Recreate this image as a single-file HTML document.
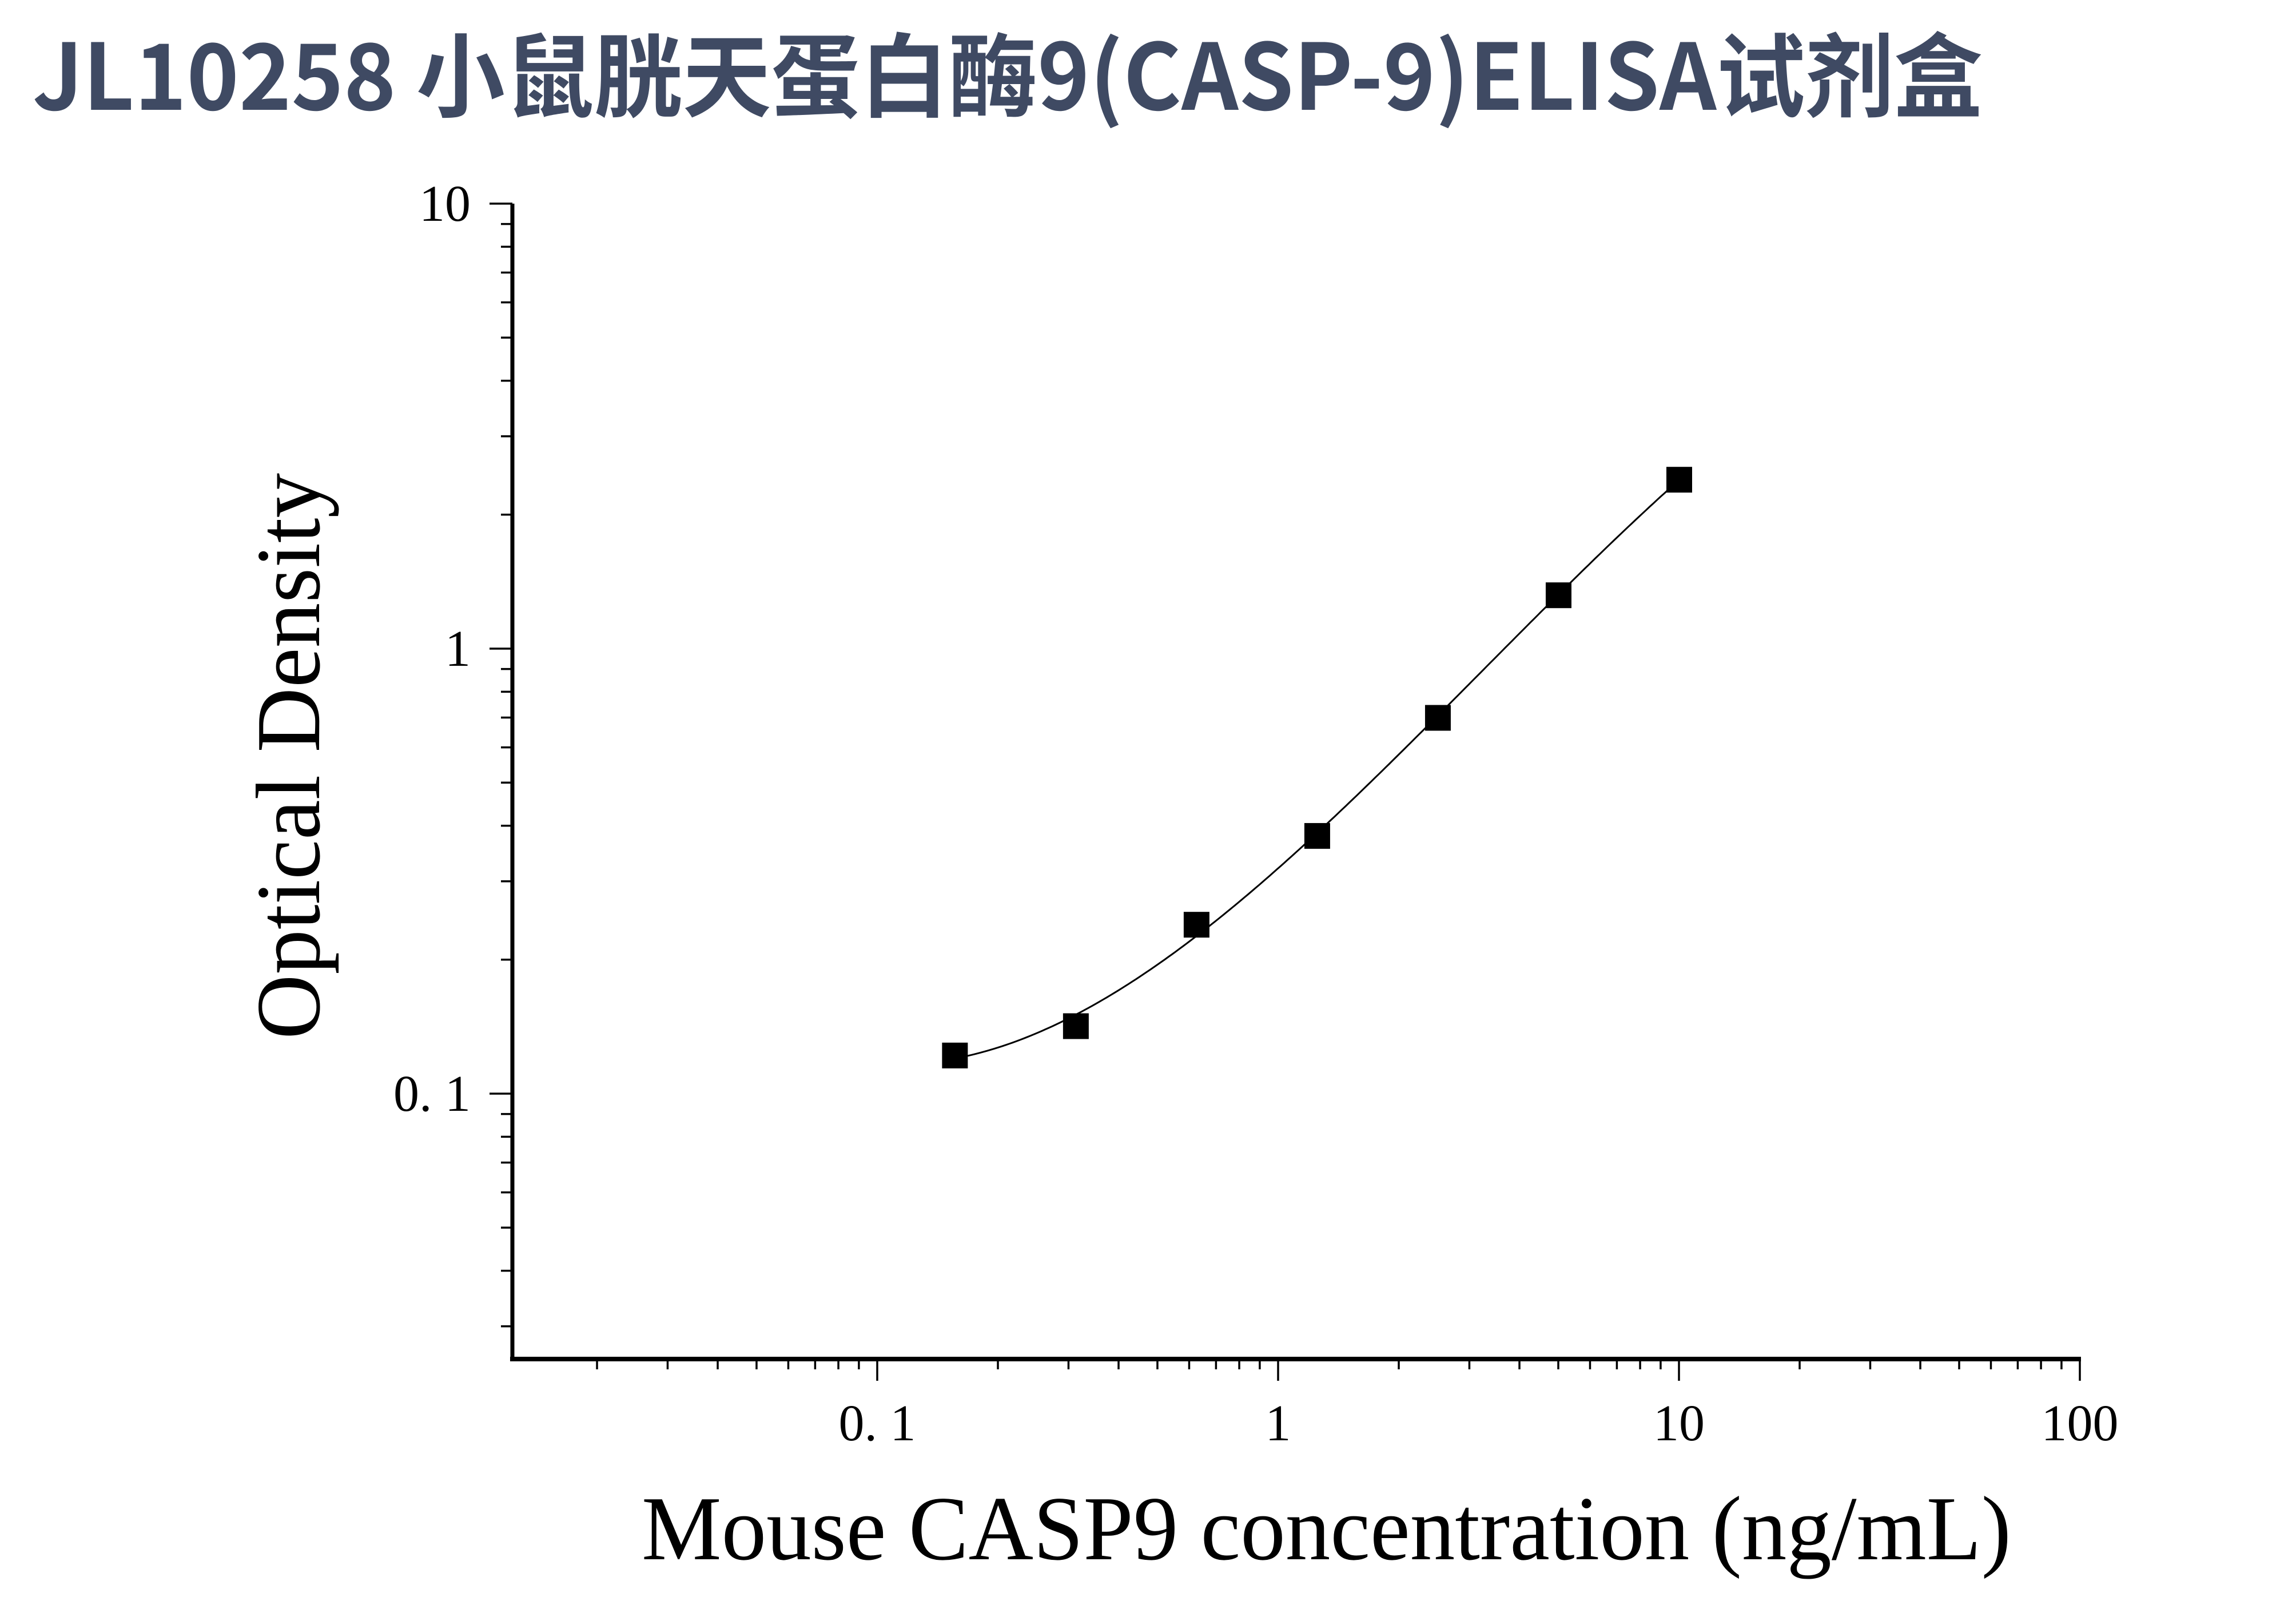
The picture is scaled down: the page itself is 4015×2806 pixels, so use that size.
<!DOCTYPE html>
<html><head><meta charset="utf-8"><style>
html,body{margin:0;padding:0;background:#fff;}
svg{display:block;}
</style></head><body>
<svg id="chart" width="4015" height="2806" viewBox="0 0 4015 2806" xmlns="http://www.w3.org/2000/svg">
<text x="57" y="192" font-family="'Noto Sans CJK SC','Liberation Sans',sans-serif" font-weight="bold" font-size="160" fill="#3f4a63" textLength="3410" lengthAdjust="spacingAndGlyphs">JL10258 小鼠胱天蛋白酶9(CASP-9)ELISA试剂盒</text>
<g id="axes"></g>
<g id="marks"></g>
<text x="1122" y="2726" font-family="'Liberation Serif',serif" font-size="160" fill="#000" textLength="2395" lengthAdjust="spacingAndGlyphs">Mouse CASP9 concentration (ng/mL)</text>
<text transform="translate(558,1322) rotate(-90)" text-anchor="middle" font-family="'Liberation Serif',serif" font-size="160" fill="#000" textLength="990" lengthAdjust="spacingAndGlyphs">Optical Density</text>
</svg>
<script>
const concentrations = [0.156, 0.3125, 0.625, 1.25, 2.5, 5, 10];
const opticalDensity = [0.122, 0.142, 0.240, 0.380, 0.700, 1.320, 2.400];
const xTickValues = [0.1, 1, 10, 100];
const xTickLabels = ["0. 1", "1", "10", "100"];
const yTickValues = [0.1, 1, 10];
const yTickLabels = ["0. 1", "1", "10"];

const NS = "http://www.w3.org/2000/svg";
const X0 = 896, Y0 = 2376;
const XDEC = 701, X01 = 1534;
const YDEC = 778, Y01 = 1912;
function xs(v){ return X01 + (Math.log10(v) + 1) * XDEC; }
function ys(v){ return Y01 - (Math.log10(v) + 1) * YDEC; }
const X1 = xs(100), Y1 = ys(10);
function mk(tag, attrs, parent){ const e = document.createElementNS(NS, tag); for (const k in attrs) e.setAttribute(k, attrs[k]); parent.appendChild(e); return e; }

const axes = document.getElementById('axes');
const marks = document.getElementById('marks');
let el;
el = mk('line', {x1:X0, y1:Y1, x2:X0, y2:Y0+4, stroke:'#000','stroke-width':7}, axes);


el = mk('line', {x1:X0-4, y1:Y0, x2:X1+2, y2:Y0, stroke:'#000','stroke-width':8}, axes);



for (let d = -2; d <= 1; d++) {
  for (let m = 1; m <= 9; m++) {
    const v = m * Math.pow(10, d);
    const x = xs(v);
    if (x < X0 + 2) continue;
    el = mk('line', {x1:x, y1:Y0, x2:x, y2: m===1 ? Y0+38 : Y0+18, stroke:'#000','stroke-width':3.5}, axes);
    
    
  }
}
el = mk('line', {x1:xs(100), y1:Y0, x2:xs(100), y2:Y0+38, stroke:'#000','stroke-width':3.5}, axes);


xTickValues.forEach((v, i) => {
  const t = mk('text', {x:xs(v), y:2518, 'text-anchor':'middle','font-family':"'Liberation Serif',serif",'font-size':90, fill:'#000'}, axes);
  t.textContent = xTickLabels[i];
  
  
});
for (let d = -2; d <= 0; d++) {
  for (let m = 1; m <= 9; m++) {
    const v = m * Math.pow(10, d);
    const y = ys(v);
    if (y > Y0 - 2) continue;
    el = mk('line', {x1:X0, y1:y, x2: m===1 ? X0-40 : X0-20, y2:y, stroke:'#000','stroke-width':3.5}, axes);
    
    
  }
}
el = mk('line', {x1:X0, y1:ys(10), x2:X0-40, y2:ys(10), stroke:'#000','stroke-width':3.5}, axes);


yTickValues.forEach((v, i) => {
  const t = mk('text', {x:823, y:ys(v)+30, 'text-anchor':'end','font-family':"'Liberation Serif',serif",'font-size':90, fill:'#000'}, axes);
  t.textContent = yTickLabels[i];
  
  
});

// cubic least-squares fit in log-log space
const lx = concentrations.map(Math.log10), ly = opticalDensity.map(Math.log10);
const N = 4, A = [], B = [];
for (let r = 0; r < N; r++) { A.push(new Array(N).fill(0)); B.push(0); }
lx.forEach((x, k) => { for (let r = 0; r < N; r++) { B[r] += ly[k] * Math.pow(x, r); for (let c = 0; c < N; c++) A[r][c] += Math.pow(x, r + c); } });
for (let i = 0; i < N; i++) {
  let p = i; for (let r = i+1; r < N; r++) if (Math.abs(A[r][i]) > Math.abs(A[p][i])) p = r;
  [A[i], A[p]] = [A[p], A[i]]; [B[i], B[p]] = [B[p], B[i]];
  for (let r = 0; r < N; r++) if (r !== i) { const f = A[r][i] / A[i][i]; for (let c = i; c < N; c++) A[r][c] -= f * A[i][c]; B[r] -= f * B[i]; }
}
const coef = B.map((b, i) => b / A[i][i]);
const lo = Math.min(...lx), hi = Math.max(...lx);
let d = '';
for (let s = 0; s <= 200; s++) {
  const x = lo + (hi - lo) * s / 200;
  let y = 0; coef.forEach((c, i) => y += c * Math.pow(x, i));
  d += (s ? ' L' : 'M') + xs(Math.pow(10, x)).toFixed(1) + ',' + ys(Math.pow(10, y)).toFixed(1);
}
el = mk('path', {d:d, fill:'none', stroke:'#000','stroke-width':3}, marks);


concentrations.forEach((c, i) => {
  const r = mk('rect', {x:xs(c)-22, y:ys(opticalDensity[i])-22, width:45, height:45, fill:'#000'}, marks);
  
  
});
</script>
</body></html>
